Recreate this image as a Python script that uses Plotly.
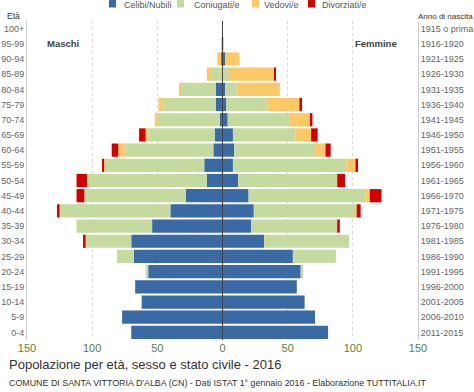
import plotly.graph_objects as go

eta = ['0-4', '5-9', '10-14', '15-19', '20-24', '25-29', '30-34', '35-39', '40-44',
       '45-49', '50-54', '55-59', '60-64', '65-69', '70-74', '75-79', '80-84',
       '85-89', '90-94', '95-99', '100+']
anno_nascita = ['2011-2015', '2006-2010', '2001-2005', '1996-2000', '1991-1995',
                '1986-1990', '1981-1985', '1976-1980', '1971-1975', '1966-1970',
                '1961-1965', '1956-1960', '1951-1955', '1946-1950', '1941-1945',
                '1936-1940', '1931-1935', '1926-1930', '1921-1925', '1916-1920',
                '1915 o prima']

# Maschi
celibi     = [70, 77, 62, 67, 57, 68, 70, 54, 40, 28, 12, 14, 7, 6, 2, 5, 5, 0, 1, 0, 0]
coniugati  = [0, 0, 0, 0, 2, 13, 35, 58, 85, 78, 92, 76, 68, 51, 48, 40, 27, 8, 0, 0, 0]
vedovi     = [0, 0, 0, 0, 0, 0, 0, 0, 0, 0, 0, 1, 5, 2, 2, 4, 1, 4, 3, 1, 0]
divorziati = [0, 0, 0, 0, 0, 0, 2, 0, 2, 6, 8, 1, 5, 5, 0, 0, 0, 0, 0, 0, 0]

# Femmine
nubili      = [81, 71, 63, 57, 60, 54, 32, 22, 24, 20, 12, 8, 9, 8, 4, 3, 2, 0, 2, 0, 0]
coniugate   = [0, 0, 0, 0, 2, 33, 65, 66, 78, 90, 76, 87, 62, 48, 47, 31, 9, 5, 0, 0, 0]
vedove      = [0, 0, 0, 0, 0, 0, 0, 0, 1, 3, 0, 7, 8, 12, 16, 25, 33, 35, 11, 1, 0]
divorziate  = [0, 0, 0, 0, 0, 0, 0, 2, 3, 9, 6, 2, 4, 5, 2, 2, 0, 1, 0, 0, 0]

nomi = ['Celibi/Nubili', 'Coniugati/e', 'Vedovi/e', 'Divorziati/e']
colori = ['#3a6aa3', '#c5da9f', '#fdc966', '#d40000']
tick_x = [-150, -100, -50, 0, 50, 100, 150]
tick_x_text = ['150', '100', '50', '0', '50', '100', '150']

FONT = 'Liberation Sans, Arial, sans-serif'
W, H = 474, 392
ML, MR, MT, MB = 27, 56, 21, 52
PW, PH = W - ML - MR, H - MT - MB


def px(xp):
    return (xp - ML) / PW


def py(yp):
    return (H - MB - yp) / PH


pos = list(range(len(eta)))

fig = go.Figure()
maschi = [celibi, coniugati, vedovi, divorziati]
femmine = [nubili, coniugate, vedove, divorziate]
for i in range(4):
    fig.add_trace(go.Bar(
        y=pos, x=[-v for v in maschi[i]], orientation='h', name=nomi[i],
        marker=dict(color=colori[i], line=dict(width=0)), showlegend=False))
for i in range(4):
    fig.add_trace(go.Bar(
        y=pos, x=femmine[i], orientation='h', name=nomi[i],
        marker=dict(color=colori[i], line=dict(width=0)), showlegend=False))

# invisible trace to activate right axis
fig.add_trace(go.Scatter(y=pos, x=[0] * len(pos), yaxis='y2', mode='markers',
                         marker=dict(opacity=0), showlegend=False, hoverinfo='skip'))

fig.update_layout(
    width=W, height=H,
    margin=dict(l=ML, r=MR, t=MT, b=MB, autoexpand=False),
    paper_bgcolor='white', plot_bgcolor='white',
    barmode='relative', bargap=0.13,
    font=dict(family=FONT, size=9, color='#666666'),
    showlegend=False,
    xaxis=dict(range=[-150, 150], tickvals=tick_x, ticktext=tick_x_text,
               showgrid=True, gridcolor='#d9d9d9', griddash='dot', gridwidth=1,
               zeroline=False, showline=False, ticks='', automargin=False,
               tickfont=dict(size=11, color='#5b7f3a', family=FONT)),
    yaxis=dict(range=[-0.5, 20.5], tickvals=pos, ticktext=eta, showgrid=False,
               zeroline=False, showline=True, linecolor='#cccccc', linewidth=1,
               ticks='', automargin=False,
               tickfont=dict(size=9, color='#666666', family=FONT)),
    yaxis2=dict(range=[-0.5, 20.5], tickvals=pos, ticktext=anno_nascita,
                overlaying='y', side='right', showgrid=False, zeroline=False,
                showline=True, linecolor='#cccccc', linewidth=1, ticks='',
                automargin=False,
                tickfont=dict(size=9, color='#666666', family=FONT)),
)

# zero line
fig.add_shape(type='line', xref='x', yref='paper', x0=0, x1=0, y0=0, y1=1,
              line=dict(color='#444444', width=1), layer='above')

# legend (manual, compact like the original)
leg_sq = [109, 177, 252, 308]
leg_tx = [122, 192, 262, 320]
for i in range(4):
    fig.add_shape(type='rect', xref='paper', yref='paper',
                  x0=px(leg_sq[i]), x1=px(leg_sq[i] + 7), y0=py(7.5), y1=py(0),
                  fillcolor=colori[i], line=dict(width=0), layer='above')
    fig.add_annotation(xref='paper', yref='paper', x=px(leg_tx[i]), y=py(4.5),
                       text=nomi[i], showarrow=False, xanchor='left', yanchor='middle',
                       font=dict(size=9, color='#555555', family=FONT))

fig.add_annotation(xref='paper', yref='paper', x=px(14), y=py(16.5), text='Età',
                   showarrow=False, xanchor='center', yanchor='middle',
                   font=dict(size=8.5, color='#333333', family=FONT))
fig.add_annotation(xref='paper', yref='paper', x=px(416), y=py(16.5), text='Anno di nascita',
                   showarrow=False, xanchor='left', yanchor='middle',
                   font=dict(size=8, color='#333333', family=FONT))
fig.add_annotation(xref='paper', yref='paper', x=px(63), y=py(43), text='<b>Maschi</b>',
                   showarrow=False, xanchor='center', yanchor='middle',
                   font=dict(size=9.5, color='#444444', family=FONT))
fig.add_annotation(xref='paper', yref='paper', x=px(376), y=py(43), text='<b>Femmine</b>',
                   showarrow=False, xanchor='center', yanchor='middle',
                   font=dict(size=9.5, color='#444444', family=FONT))
fig.add_annotation(xref='paper', yref='paper', x=px(7), y=py(364),
                   text='Popolazione per età, sesso e stato civile - 2016',
                   showarrow=False, xanchor='left', yanchor='middle',
                   font=dict(size=13, color='#333333', family=FONT))
fig.add_annotation(xref='paper', yref='paper', x=px(7), y=py(383),
                   text="COMUNE DI SANTA VITTORIA D'ALBA (CN) - Dati ISTAT 1° gennaio 2016 - Elaborazione TUTTITALIA.IT",
                   showarrow=False, xanchor='left', yanchor='middle',
                   font=dict(size=8.9, color='#333333', family=FONT))

fig.write_html('out.html', config={'displayModeBar': False},
               post_script="document.body.style.margin='0';document.body.style.padding='0';")
